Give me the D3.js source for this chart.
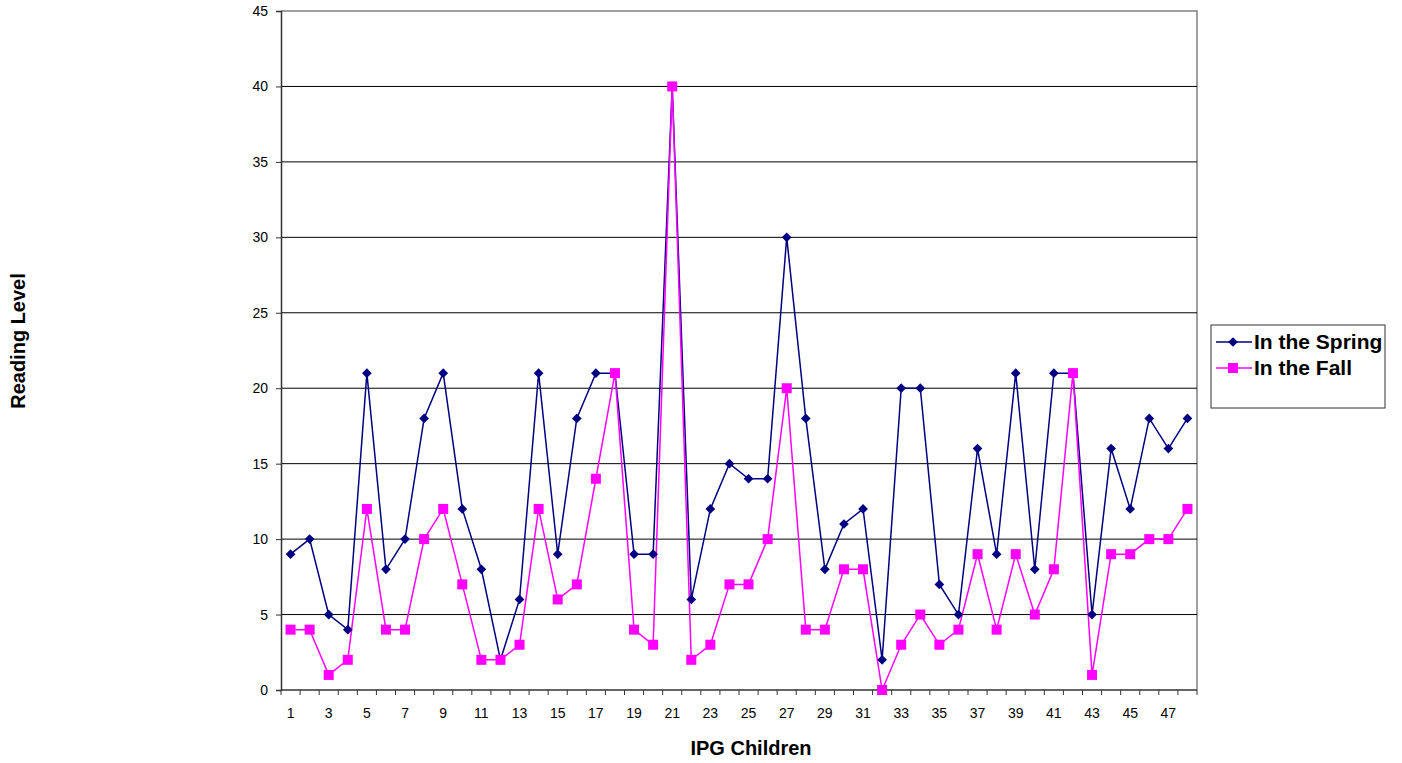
<!DOCTYPE html>
<html>
<head>
<meta charset="utf-8">
<script src="https://cdn.jsdelivr.net/npm/d3@7"></script>
<style>
body { margin: 0; background: #fff; }
text { font-family: "Liberation Sans", Arial, sans-serif; }
</style>
</head>
<body>
<div id="chart"></div>
<script>
// children 1..48
const children = d3.range(1, 49);
const spring = [9, 10, 5, 4, 21, 8, 10, 18, 21, 12, 8, 2, 6, 21, 9, 18, 21, 21, 9, 9, 40, 6, 12, 15, 14, 14, 30, 18, 8, 11, 12, 2, 20, 20, 7, 5, 16, 9, 21, 8, 21, 21, 5, 16, 12, 18, 16, 18];
const fall = [4, 4, 1, 2, 12, 4, 4, 10, 12, 7, 2, 2, 3, 12, 6, 7, 14, 21, 4, 3, 40, 2, 3, 7, 7, 10, 20, 4, 4, 8, 8, 0, 3, 5, 3, 4, 9, 4, 9, 5, 8, 21, 1, 9, 9, 10, 10, 12];
const yTicks = [0, 5, 10, 15, 20, 25, 30, 35, 40, 45];
const seriesNames = ["In the Spring", "In the Fall"];
const seriesColors = ["#000080", "#ff00ff"];

const width = 1402, height = 763;
const plotLeft = 281, plotRight = 1197, plotTop = 11, plotBottom = 690;

let svg = d3.select("#chart").append("svg")
    .attr("width", width)
    .attr("height", height);

let x = d3.scaleBand()
    .domain(children)
    .range([plotLeft, plotRight]);

let y = d3.scaleLinear()
    .domain([0, 45])
    .range([plotBottom, plotTop]);

// plot border (top + right, gray)
svg.append("path")
    .attr("d", `M${plotLeft},${plotTop}H${plotRight}V${plotBottom}`)
    .style("fill", "none")
    .style("stroke", "#808080")
    .style("stroke-width", 1.5);

// gridlines
svg.selectAll("line.grid")
    .data(yTicks.filter(d => d > 0 && d < 45))
    .enter()
    .append("line")
    .attr("class", "grid")
    .attr("x1", plotLeft)
    .attr("x2", plotRight)
    .attr("y1", d => y(d))
    .attr("y2", d => y(d))
    .style("stroke", "#000")
    .style("stroke-width", 1);

// y axis
let yAxis = svg.append("g")
    .attr("transform", `translate(${plotLeft},0)`)
    .call(d3.axisLeft(y).tickValues(yTicks).tickSize(5).tickPadding(8));
yAxis.select(".domain").style("stroke", "#333").style("stroke-width", 1.5);
yAxis.selectAll(".tick line").style("stroke", "#333");
yAxis.selectAll("text").style("font-size", "14px").style("fill", "#000")
    .style("font-family", "'Liberation Sans', Arial, sans-serif");

// x axis: ticks at category boundaries, labels on odd children
let xAxis = svg.append("g")
    .attr("transform", `translate(0,${plotBottom})`);
xAxis.append("line")
    .attr("x1", plotLeft).attr("x2", plotRight)
    .style("stroke", "#333").style("stroke-width", 1.5);
xAxis.selectAll("line.tk")
    .data(children.concat([49]))
    .enter()
    .append("line")
    .attr("class", "tk")
    .attr("x1", d => d <= 48 ? x(d) : plotRight)
    .attr("x2", d => d <= 48 ? x(d) : plotRight)
    .attr("y1", 0)
    .attr("y2", 5)
    .style("stroke", "#333");
xAxis.selectAll("text")
    .data(children.filter(d => d % 2 == 1))
    .enter()
    .append("text")
    .attr("x", d => x(d) + x.bandwidth() / 2)
    .attr("y", 28)
    .attr("text-anchor", "middle")
    .style("font-size", "14px")
    .text(d => d);

// series
let line = d3.line()
    .x((d, i) => x(children[i]) + x.bandwidth() / 2)
    .y(d => y(d));

[spring, fall].forEach((vals, s) => {
    svg.append("path")
        .datum(vals)
        .attr("d", line)
        .style("fill", "none")
        .style("stroke", seriesColors[s])
        .style("stroke-width", 1.5);
});

let diamond = d3.symbol().type(d3.symbolDiamond2).size(60);
svg.selectAll("path.sp")
    .data(spring)
    .enter()
    .append("path")
    .attr("class", "sp")
    .attr("d", diamond)
    .attr("transform", (d, i) => `translate(${x(children[i]) + x.bandwidth() / 2},${y(d)})`)
    .style("fill", seriesColors[0]);

svg.selectAll("rect.fa")
    .data(fall)
    .enter()
    .append("rect")
    .attr("class", "fa")
    .attr("x", (d, i) => x(children[i]) + x.bandwidth() / 2 - 5)
    .attr("y", d => y(d) - 5)
    .attr("width", 10)
    .attr("height", 10)
    .style("fill", seriesColors[1]);

// axis titles
svg.append("text")
    .attr("x", 751)
    .attr("y", 755)
    .attr("text-anchor", "middle")
    .style("font-size", "20px")
    .style("font-weight", "bold")
    .text("IPG Children");

svg.append("text")
    .attr("transform", "translate(25,341) rotate(-90)")
    .attr("text-anchor", "middle")
    .style("font-size", "20px")
    .style("font-weight", "bold")
    .text("Reading Level");

// legend
let legend = svg.append("g").attr("transform", "translate(1211,325)");
legend.append("rect")
    .attr("width", 174)
    .attr("height", 83)
    .style("fill", "#fff")
    .style("stroke", "#333")
    .style("stroke-width", 1);
seriesNames.forEach((name, i) => {
    let yy = 17 + i * 26;
    legend.append("line")
        .attr("x1", 5).attr("x2", 41)
        .attr("y1", yy).attr("y2", yy)
        .style("stroke", seriesColors[i])
        .style("stroke-width", 1.5);
    if(i == 0) {
        legend.append("path")
            .attr("d", diamond)
            .attr("transform", `translate(22,${yy})`)
            .style("fill", seriesColors[i]);
    } else {
        legend.append("rect")
            .attr("x", 17).attr("y", yy - 5)
            .attr("width", 10).attr("height", 10)
            .style("fill", seriesColors[i]);
    }
    legend.append("text")
        .attr("x", 43)
        .attr("y", yy + 7)
        .style("font-size", "21px")
        .style("font-weight", "bold")
        .text(name);
});
</script>
</body>
</html>
